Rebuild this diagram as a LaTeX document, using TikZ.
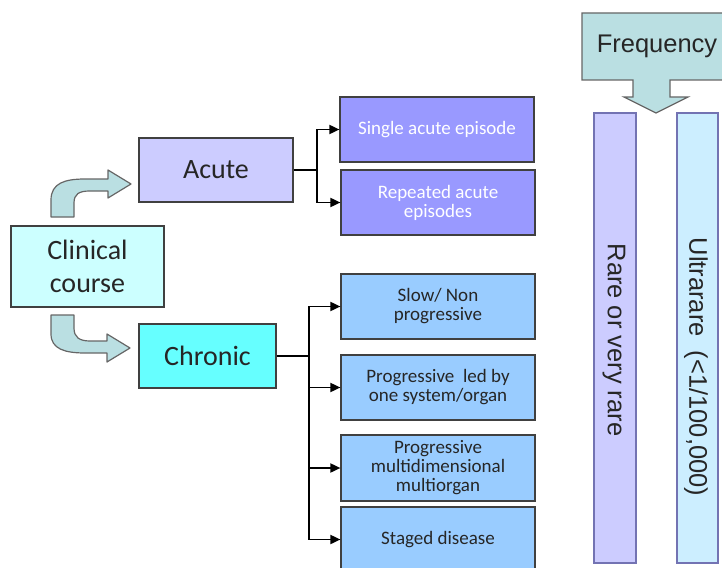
\documentclass[tikz,border=0pt]{standalone}
\usepackage{fontspec}
\setmainfont{Carlito}
\newfontfamily\arialf{Liberation Sans}
\usetikzlibrary{arrows.meta}
\definecolor{clin}{HTML}{CCFFFF}
\definecolor{acu}{HTML}{CCCCFF}
\definecolor{chr}{HTML}{66FFFF}
\definecolor{acuchild}{HTML}{9999FF}
\definecolor{chrchild}{HTML}{99CCFF}
\definecolor{bentfill}{HTML}{BADFE2}
\definecolor{rarefill}{HTML}{CCCCFF}
\definecolor{ultrafill}{HTML}{CCEEFF}
\definecolor{barline}{HTML}{7373B3}
\definecolor{edge}{HTML}{404040}
\tikzset{
  box/.style={draw=edge, line width=1.2pt, rectangle, inner sep=0pt, align=center},
  bigtxt/.style={font=\fontsize{28}{33}\selectfont, text=black!85},
  smalltxt/.style={font=\fontsize{19}{19}\selectfont},
  bar/.style={draw=barline, line width=1.2pt, rectangle, inner sep=0pt},
  conn/.style={line width=1.8pt, black},
  arr/.style={conn, -{Triangle[length=10pt,width=9pt]}},
  bent/.style={fill=bentfill, draw=edge!80, line width=1.2pt, line join=round},
  vtxt/.style={font=\arialf\fontsize{25.5}{28}\selectfont, rotate=-90, text=black!85, inner sep=0pt}
}
\begin{document}
\begin{tikzpicture}[x=1pt,y=-1pt]
\useasboundingbox (0,0) rectangle (722,567);
\begin{scope}
\clip (0,0) rectangle (722,567);
% bent arrows
\draw[bent] (51,217) -- (51,200) .. controls (51,183) and (65,179) .. (85,179) -- (108,179) -- (108,170) -- (131,184) -- (108,198) -- (108,191) -- (90,191) .. controls (79,191) and (74,194) .. (74,203) -- (74,217) -- cycle;
\draw[bent] (51,315) -- (51,334) .. controls (51,349) and (65,353) .. (85,353) -- (107,353) -- (107,362) -- (130,348) -- (107,334) -- (107,341) -- (90,341) .. controls (79,341) and (74,337) .. (74,328) -- (74,315) -- cycle;
% main boxes
\node[box, bigtxt, fill=clin, minimum width=153pt, minimum height=81pt] (clinical) at (87.5,266.5) {Clinical\\course};
\node[box, bigtxt, fill=acu, minimum width=154pt, minimum height=64pt] (acute) at (216,170) {Acute};
\node[box, bigtxt, fill=chr, minimum width=137pt, minimum height=64pt] (chronic) at (207.5,356) {Chronic};
% acute children
\node[box, smalltxt, fill=acuchild, text=white, minimum width=194pt, minimum height=65pt] (single) at (437,129.5) {Single acute episode};
\node[box, smalltxt, fill=acuchild, text=white, minimum width=194pt, minimum height=65pt] (repeated) at (438,202.5) {Repeated acute\\episodes};
% chronic children
\node[box, smalltxt, fill=chrchild, text=black!85, minimum width=194pt, minimum height=65pt] (slow) at (438,306.5) {Slow/ Non\\progressive};
\node[box, smalltxt, fill=chrchild, text=black!85, minimum width=194pt, minimum height=65pt] (led) at (438,387.5) {Progressive\ \ led by\\one system/organ};
\node[box, smalltxt, fill=chrchild, text=black!85, minimum width=194pt, minimum height=66pt] (multi) at (438,468) {Progressive\\multidimensional\\multiorgan};
\node[box, smalltxt, fill=chrchild, text=black!85, minimum width=194pt, minimum height=65pt] (staged) at (438,539.5) {Staged disease};
% connectors acute
\coordinate (aj) at (317,170);
\draw[conn] (acute.east) -- (aj);
\draw[arr] (aj) |- (single.west);
\draw[arr] (aj) |- (repeated.west);
% connectors chronic
\coordinate (cj) at (309,356);
\draw[conn] (chronic.east) -- (cj);
\draw[arr] (cj) |- (slow.west);
\draw[arr] (cj) |- (led.west);
\draw[arr] (cj) |- (multi.west);
\draw[arr] (cj) |- (staged.west);
% frequency callout
\draw[fill=bentfill, draw=edge!80, line width=1.2pt, line join=miter] (582,13) -- (740,13) -- (740,80) -- (670,80) -- (670,97) -- (688,97) -- (656,113) -- (624,97) -- (633,97) -- (633,80) -- (582,80) -- cycle;
\node[font=\arialf\fontsize{25.5}{28}\selectfont, text=black!85, inner sep=0pt] (freq) at (657,46) {Frequency};
% bars
\node[bar, fill=rarefill, minimum width=42pt, minimum height=450pt] (rarebar) at (615,338) {};
\node[bar, fill=ultrafill, minimum width=41pt, minimum height=450pt] (ultrabar) at (697.5,338) {};
\node[vtxt] (raretxt) at (614,340) {Rare or very rare};
\node[vtxt] (ultratxt) at (696,367) {Ultrarare\ \ (<1/100,000)};
\end{scope}
\end{tikzpicture}
\end{document}
